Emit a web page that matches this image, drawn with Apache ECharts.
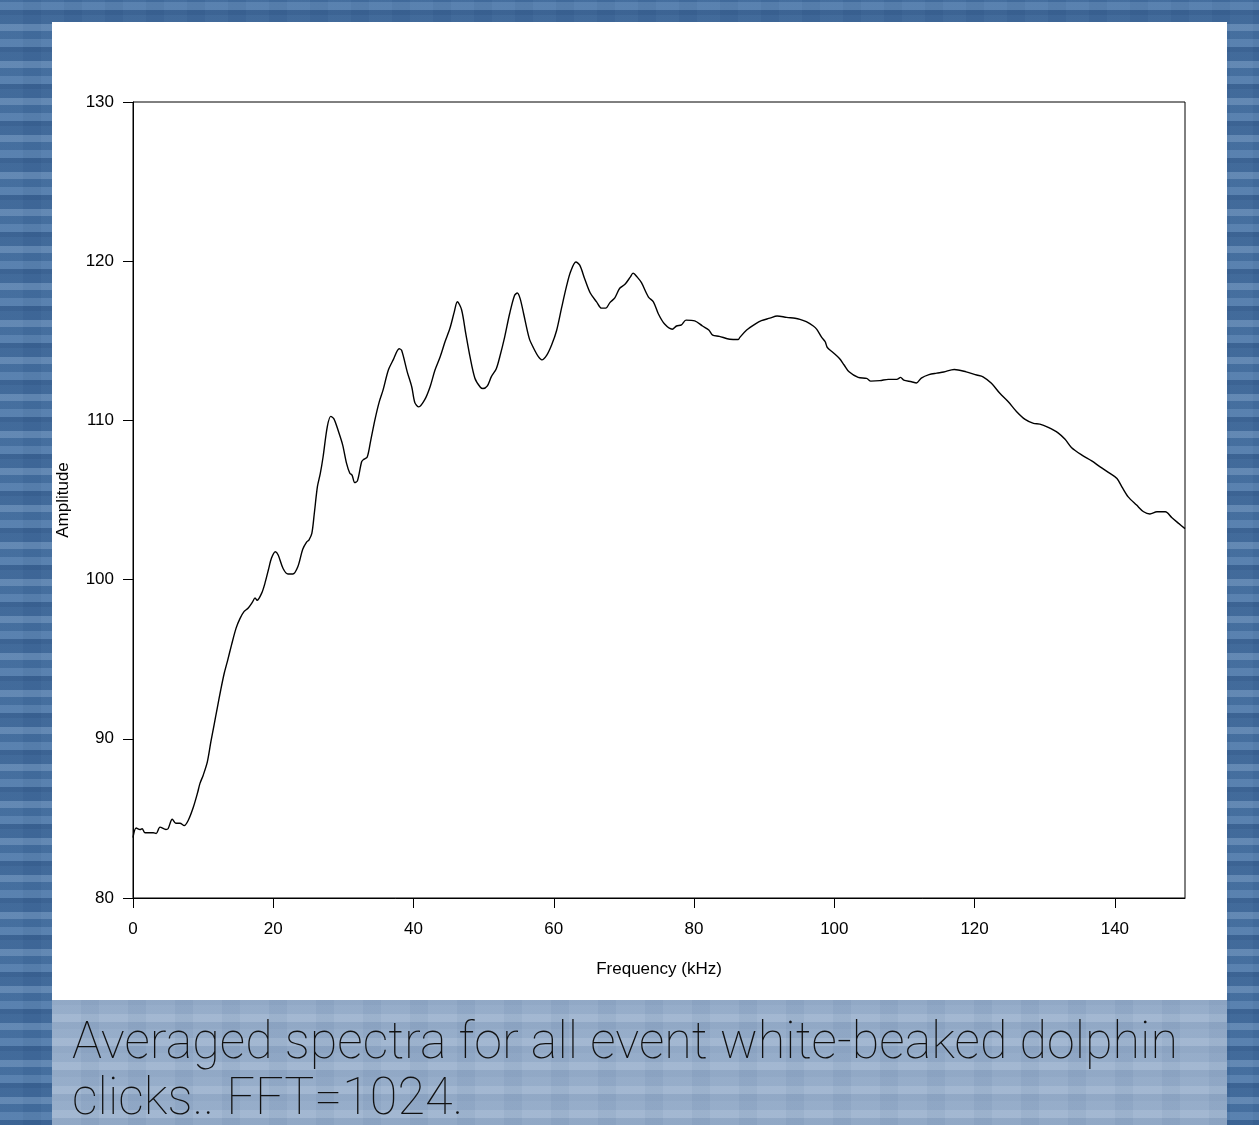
<!DOCTYPE html>
<html>
<head>
<meta charset="utf-8">
<script src="https://cdn.jsdelivr.net/npm/echarts@6/dist/echarts.min.js"></script>
<style>
  html, body { margin: 0; padding: 0; }
  body {
    width: 1259px; height: 1125px; overflow: hidden; position: relative;
    background:
      repeating-linear-gradient(0deg, rgba(15,45,90,0.28) 0 5px, rgba(255,255,255,0.07) 5px 13px, rgba(10,40,80,0.12) 13px 21px, rgba(255,255,255,0.12) 21px 28px, rgba(20,50,95,0.2) 28px 37px),
      repeating-linear-gradient(90deg, rgba(255,255,255,0.02) 0 23px, rgba(0,20,60,0.03) 23px 41px),
      #4a76a8;
  }
  #panel { position: absolute; left: 52px; top: 22px; width: 1175px; height: 978px; background: #fff; }
  #band {
    position: absolute; left: 52px; top: 1000px; width: 1175px; height: 125px;
    background:
      repeating-linear-gradient(0deg, rgba(60,90,130,0.10) 0 7px, rgba(255,255,255,0.08) 7px 15px, rgba(60,90,130,0.05) 15px 24px),
      repeating-linear-gradient(90deg, rgba(255,255,255,0.03) 0 29px, rgba(40,70,110,0.04) 29px 47px),
      #98afcc;
  }
  #chart { position: absolute; left: 0; top: 0; width: 1259px; height: 1125px; }
</style>
</head>
<body>
<div id="panel"></div>
<div id="band"></div>
<div id="chart"></div>
<script>
// averaged spectrum
var freqs = [0.0, 0.45, 1.0, 1.3, 1.7, 2.9, 3.3, 3.85, 4.7, 5.0, 5.6, 6.1, 6.7, 7.3, 7.9, 8.6, 9.2, 9.55, 10.0, 10.6,
  11.1, 11.55, 12.0, 12.5, 13.0, 13.45, 14.05, 14.7, 15.25, 15.85, 16.4, 17.05, 17.4, 17.7, 18.35, 18.8, 19.3, 19.75, 20.3, 20.7,
  21.4, 22.1, 22.8, 23.5, 24.2, 24.75, 25.1, 25.5, 25.85, 26.3, 26.7, 27.1, 27.7, 28.2, 28.65, 29.3, 29.9, 30.45, 30.9, 31.25,
  31.6, 32.0, 32.6, 32.9, 33.4, 33.9, 34.5, 35.1, 35.65, 36.4, 37.1, 37.95, 38.3, 39.1, 39.75, 40.2, 40.75, 41.6, 42.35, 43.05,
  43.8, 44.5, 45.2, 45.8, 46.25, 46.85, 47.45, 48.05, 48.75, 49.5, 49.9, 50.5, 51.1, 51.8, 52.3, 53.0, 53.7, 54.4, 54.8, 55.2,
  55.7, 56.5, 57.05, 57.8, 58.3, 59.0, 59.7, 60.4, 61.1, 61.8, 62.4, 63.15, 63.7, 64.4, 65.2, 66.1, 66.8, 67.4, 68.0, 68.7,
  69.4, 70.15, 70.9, 71.3, 71.9, 72.5, 73.5, 74.2, 74.9, 75.8, 76.9, 77.5, 78.2, 78.85, 80.1, 81.2, 82.1, 82.65, 83.6, 85.1,
  86.3, 86.5, 87.5, 88.7, 89.6, 90.8, 91.85, 93.2, 94.4, 95.1, 96.0, 97.0, 97.5, 98.2, 98.7, 99.0, 99.85, 100.7, 101.4, 102.1,
  103.4, 104.6, 105.2, 106.5, 107.7, 108.9, 109.45, 109.9, 111.0, 111.7, 112.4, 113.5, 114.6, 115.6, 117.1, 118.8, 120.3, 121.2, 122.4, 123.6,
  124.8, 126.0, 127.2, 128.4, 129.3, 130.5, 131.9, 132.9, 133.8, 135.3, 136.7, 137.9, 139.3, 140.3, 141.0, 141.9, 143.1, 144.1, 145.0, 146.0,
  147.2, 148.1, 149.1, 150.0];
var amps = [83.8, 84.4, 84.3, 84.35, 84.1, 84.1, 84.05, 84.45, 84.3, 84.35, 84.95, 84.7, 84.7, 84.55, 84.9, 85.7, 86.6, 87.2, 87.7, 88.55,
  89.8, 90.85, 91.9, 93.05, 94.1, 94.85, 95.9, 96.95, 97.55, 98.0, 98.2, 98.6, 98.85, 98.7, 99.15, 99.75, 100.6, 101.35, 101.75, 101.55,
  100.7, 100.35, 100.35, 100.8, 101.9, 102.35, 102.5, 102.9, 104.15, 105.85, 106.65, 107.7, 109.6, 110.25, 110.1, 109.3, 108.45, 107.3, 106.7, 106.55,
  106.1, 106.2, 107.4, 107.55, 107.7, 108.75, 110.05, 111.15, 111.9, 113.15, 113.8, 114.5, 114.4, 113.05, 112.1, 111.1, 110.85, 111.3, 112.1, 113.15,
  114.0, 114.95, 115.8, 116.8, 117.45, 116.95, 115.45, 114.0, 112.65, 112.1, 112.0, 112.15, 112.75, 113.25, 114.0, 115.25, 116.7, 117.85, 118.0, 117.65,
  116.7, 115.15, 114.6, 114.0, 113.8, 114.1, 114.75, 115.65, 117.05, 118.4, 119.35, 119.95, 119.75, 118.9, 118.0, 117.45, 117.05, 117.05, 117.4, 117.7,
  118.3, 118.55, 119.0, 119.25, 119.0, 118.65, 117.75, 117.45, 116.7, 116.05, 115.73, 115.93, 116.0, 116.3, 116.25, 115.93, 115.68, 115.36, 115.28, 115.1,
  115.08, 115.2, 115.68, 116.05, 116.27, 116.42, 116.56, 116.47, 116.42, 116.35, 116.2, 115.93, 115.72, 115.22, 114.94, 114.58, 114.25, 113.9, 113.48, 113.05,
  112.7, 112.64, 112.47, 112.5, 112.58, 112.58, 112.7, 112.53, 112.43, 112.35, 112.66, 112.88, 112.97, 113.04, 113.2, 113.05, 112.85, 112.74, 112.33, 111.7,
  111.17, 110.54, 110.06, 109.81, 109.77, 109.56, 109.22, 108.81, 108.3, 107.82, 107.46, 107.08, 106.67, 106.35, 105.83, 105.2, 104.68, 104.26, 104.12, 104.26,
  104.26, 103.9, 103.53, 103.2];
var xTicks = [0, 20, 40, 60, 80, 100, 120, 140];
var captionLines = ['Averaged spectra for all event white-beaked dolphin', 'clicks.. FFT=1024.'];

var axisFont = '"Liberation Sans", Arial, sans-serif';
var capFont = '100 52px Roboto, "Noto Sans", sans-serif';

// squeeze the caption so the first line spans the band like the original
var meas = document.createElement('canvas').getContext('2d');
meas.font = capFont;
var capScale = 1106 / meas.measureText(captionLines[0]).width;

var points = [];
for (var i = 0; i < freqs.length; i++) {
  points.push([freqs[i], amps[i]]);
}

var myChart = echarts.init(document.getElementById('chart'), null, { renderer: 'canvas' });
var option = {
  backgroundColor: 'transparent',
  animation: false,
  grid: {
    left: 133, top: 102, width: 1052, height: 796,
    show: true, borderColor: '#000', borderWidth: 1, backgroundColor: 'transparent'
  },
  xAxis: {
    type: 'value', min: 0, max: 150,
    name: 'Frequency (kHz)', nameLocation: 'middle', nameGap: 63,
    nameTextStyle: { fontFamily: axisFont, fontSize: 17, color: '#000' },
    axisLine: { show: true, onZero: false, lineStyle: { color: '#000', width: 1 } },
    axisTick: { show: true, length: 10, customValues: xTicks, lineStyle: { color: '#000' } },
    axisLabel: { customValues: xTicks, margin: 23, fontFamily: axisFont, fontSize: 17, color: '#000' },
    splitLine: { show: false }
  },
  yAxis: {
    type: 'value', min: 80, max: 130, interval: 10,
    name: 'Amplitude', nameLocation: 'middle', nameGap: 61,
    nameTextStyle: { fontFamily: axisFont, fontSize: 17, color: '#000' },
    axisLine: { show: true, onZero: false, lineStyle: { color: '#000', width: 1 } },
    axisTick: { show: true, length: 10, lineStyle: { color: '#000' } },
    axisLabel: { margin: 19, fontFamily: axisFont, fontSize: 17, color: '#000' },
    splitLine: { show: false }
  },
  series: [{
    type: 'line',
    data: points,
    showSymbol: false,
    smooth: 0.3,
    lineStyle: { color: '#000', width: 1.4 }
  }],
  graphic: [
    { type: 'text', x: 72, y: 1045, scaleX: capScale, silent: true,
      style: { text: captionLines[0], font: capFont, fill: '#111', verticalAlign: 'middle' } },
    { type: 'text', x: 72, y: 1101, scaleX: capScale, silent: true,
      style: { text: captionLines[1], font: capFont, fill: '#111', verticalAlign: 'middle' } }
  ]
};
option && myChart.setOption(option);
</script>
</body>
</html>
